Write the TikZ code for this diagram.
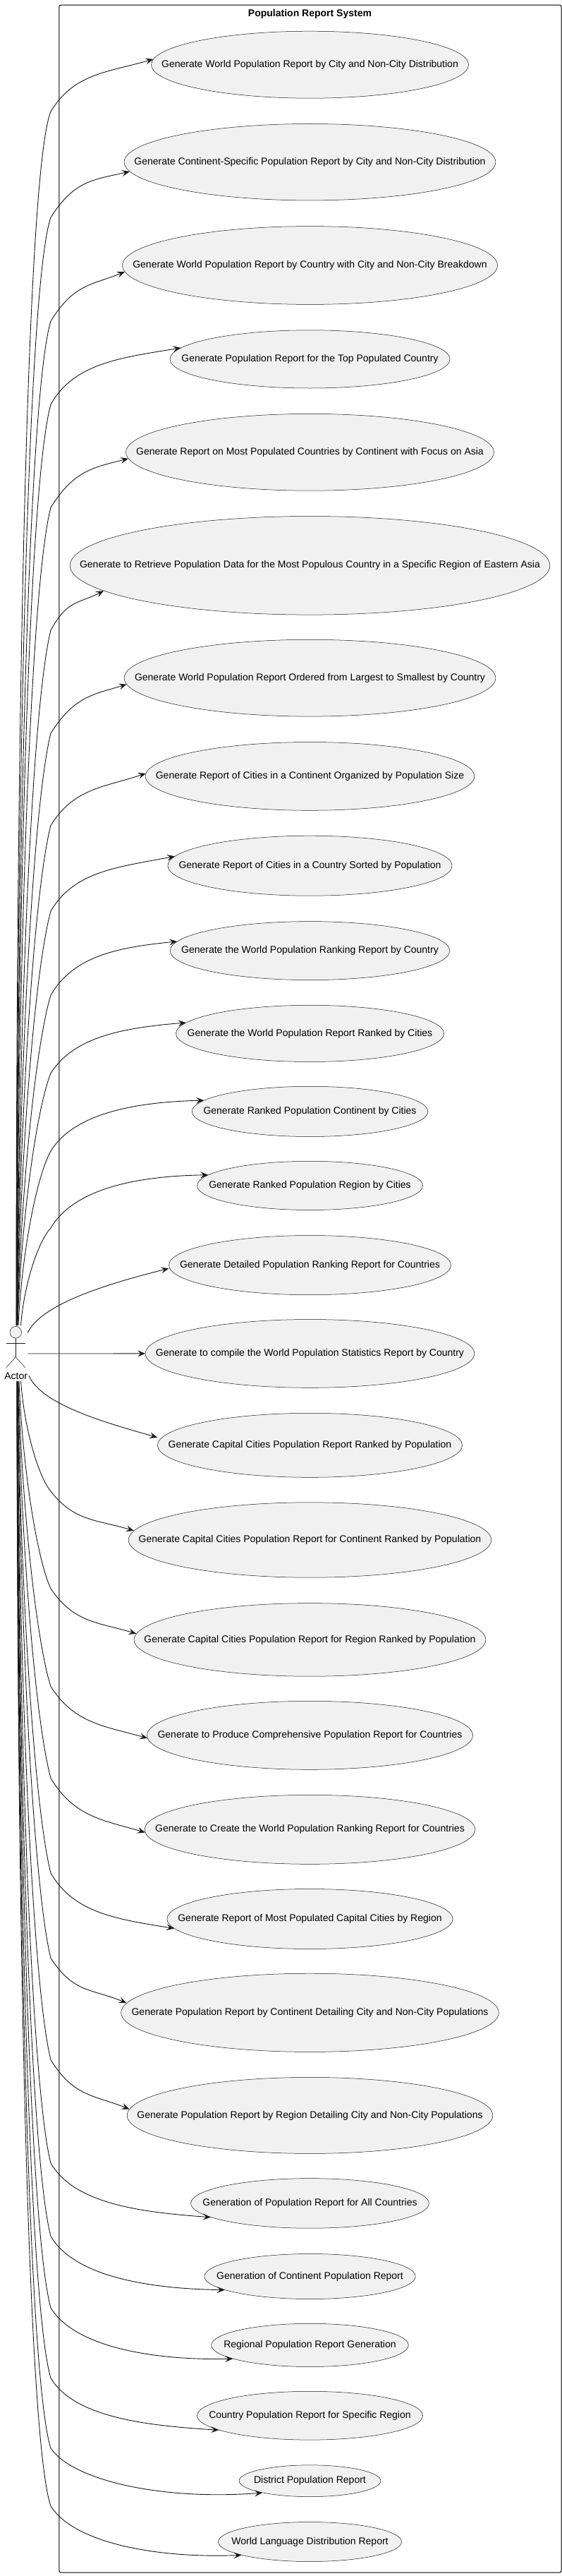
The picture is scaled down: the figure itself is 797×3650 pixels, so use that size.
\documentclass[tikz,border=0pt]{standalone}
\usepackage{fontspec}
\setmainfont{Liberation Sans}
\usetikzlibrary{arrows.meta,shapes.geometric}
\definecolor{ink}{HTML}{181818}
\definecolor{ucfill}{HTML}{F1F1F1}
\tikzset{
  usecase/.style={ellipse,draw=ink,line width=.5pt,fill=ucfill,inner sep=0pt,font=\fontsize{14}{16}\selectfont},
  link/.style={draw=ink,line width=.9pt,-{Stealth[length=11pt,width=9pt,inset=4.5pt]}},
  stick/.style={draw=ink,line width=.5pt},
  frameline/.style={draw=black,line width=1pt,rounded corners=2.5pt},
  plainlabel/.style={inner sep=0pt,text=black,font=\fontsize{14}{16}\selectfont}
}
\begin{document}
\begin{tikzpicture}[x=1pt,y=-1pt]
\useasboundingbox (0,0) rectangle (797,3650);
\fill[white] (0,0) rectangle (797,3650);
\draw[frameline] (83.8,7.1) rectangle (796,3645);
\node[plainlabel,font=\fontsize{14}{16}\selectfont\bfseries] (title) at (439.5,19.4) {Population Report System};
\foreach \i/\cy/\rx/\ry/\txt in {
1/91.7/225/47.5/Generate World Population Report by City and Non-City Distribution,
2/229.7/263.4/54.2/Generate Continent-Specific Population Report by City and Non-City Distribution,
3/376/266/55.4/Generate World Population Report by Country with City and Non-City Breakdown,
4/508.9/198.5/41.1/Generate Population Report for the Top Populated Country,
5/640.8/260.9/54.4/Generate Report on Most Populated Countries by Continent with Focus on Asia,
6/801.3/340.3/69.8/Generate to Retrieve Population Data for the Most Populous Country in a Specific Region of Eastern Asia,
7/960.7/263.4/54.4/Generate World Population Report Ordered from Largest to Smallest by Country,
8/1099.9/233.3/48.4/Generate Report of Cities in a Continent Organized by Population Size,
9/1226.7/201.6/42.5/Generate Report of Cities in a Country Sorted by Population,
10/1347.1/198.3/41.5/Generate the World Population Ranking Report by Country,
11/1464.4/190/40.1/Generate the World Population Report Ranked by Cities,
12/1574.9/167.3/35.6/Generate Ranked Population Continent by Cities,
13/1679.9/160/34.6/Generate Ranked Population Region by Cities,
14/1792.6/200/42.1/Generate Detailed Population Ranking Report for Countries,
15/1917.9/233.3/48.4/Generate to compile the World Population Statistics Report by Country,
16/2047.8/216.1/45.5/Generate Capital Cities Population Report Ranked by Population,
17/2182/257.3/53.2/Generate Capital Cities Population Report for Continent Ranked by Population,
18/2323.4/249.4/51.8/Generate Capital Cities Population Report for Region Ranked by Population,
19/2458.8/231/48.5/Generate to Produce Comprehensive Population Report for Countries,
20/2592.3/234.3/49/Generate to Create the World Population Ranking Report for Countries,
21/2719/202.6/42.5/Generate Report of Most Populated Capital Cities by Region,
22/2851.8/267.8/55.6/Generate Population Report by Continent Detailing City and Non-City Populations,
23/2997.4/259.3/54/Generate Population Report by Region Detailing City and Non-City Populations,
24/3121.9/168.9/35.3/Generation of Population Report for All Countries,
25/3225.5/149.7/32/Generation of Continent Population Report,
26/3322.9/139.8/30.6/Regional Population Report Generation,
27/3422.7/160/34.4/Country Population Report for Specific Region,
28/3515.2/100.4/22.4/District Population Report,
29/3601.5/130/28/World Language Distribution Report}{
  \node[usecase,minimum width=2*\rx pt,minimum height=2*\ry pt] (u\i) at (439.5,\cy) {\makebox[0pt]{\txt}};
  \expandafter\xdef\csname cy\i\endcsname{\cy}
}
% actor
\node[circle,draw=ink,line width=.5pt,fill=ucfill,minimum size=16.6pt,inner sep=0pt] (head) at (22.3,1887.7) {};
\coordinate (neck) at (22.3,1896);
\coordinate (hip) at (22.3,1922.7);
\coordinate (handl) at (9,1903.3);
\coordinate (handr) at (35.7,1903.3);
\coordinate (footl) at (9,1937.7);
\coordinate (footr) at (35.7,1937.7);
\draw[stick] (head.south) -- (hip);
\draw[stick] (handl) -- (handr);
\draw[stick] (footl) -- (hip) -- (footr);
\node[plainlabel] (actor) at (22.7,1949.7) {Actor};
% long edges: i / start x / bend y / tip x / tip y / arrival slope
\foreach \i/\sx/\by/\ex/\ey/\sl in {
1/23/158/217/85.8/-.26,
2/23.2/308/180/238.8/-.33,
3/23.4/455/178/384/-.42,
4/23.6/573/254/494.6/-.15,
5/23.8/719/182.4/648.5/-.28,
6/24/893/143/835.4/-.63,
7/24/1039/180.4/969.5/-.3,
8/24.2/1169.5/207/1099/-.28,
9/24.4/1291/248/1215/-.17,
10/24.6/1410/251.4/1334/-.1,
11/25/1520.6/262/1451/-.06,
12/26/1631/290.8/1559.4/-.02,
13/29.5/1740/294.3/1665.3/-.01,
17/29.6/2113/190/2170/.32,
18/27/2251/192.6/2315.7/.32,
19/26/2389.6/208.5/2459/.22,
20/25.5/2519.5/206/2592.7/.23,
21/25/2654/246.8/2730.6/.14,
22/25/2774.5/176.8/2841.7/.52,
23/24.5/2918.7/182.4/2989/.42,
24/24.5/3065/294.8/3140.3/.06,
25/24.2/3168.6/320.4/3243.6/.005,
26/24.2/3270/328.6/3342.4/-.02,
27/24/3369.6/306.6/3441.9/.05,
28/24/3469/369/3532.2/-.08,
29/24/3551/342.4/3620.2/-.04}{
  \pgfmathsetmacro\sy{\by<1900?1878:1957}
  \pgfmathsetmacro\L{abs(\by-\sy)}
  \pgfmathsetmacro\f{min(1,max(0,(\L-468)/1244))}
  \pgfmathsetmacro\ax{\sx+(72-\sx)*.1*(1-\f)}
  \pgfmathsetmacro\ay{\sy+(\by-\sy)*(.4+.1*\f)}
  \pgfmathsetmacro\bx{\sx+(72-\sx)*(.55-.25*\f)}
  \pgfmathsetmacro\bby{\sy+(\by-\sy)*(.85+.1*\f)}
  \pgfmathsetmacro\dh{\ex-72}
  \pgfmathsetmacro\k{min(1,\dh/100)}
  \pgfmathsetmacro\cx{72+33*\k}
  \pgfmathsetmacro\ccy{\by+.75*(\ey-\by)}
  \pgfmathsetmacro\ddx{\ex-.45*\dh}
  \pgfmathsetmacro\ddy{\ey-.45*\dh*\sl}
  \pgfmathsetmacro\ang{atan2(\csname cy\i\endcsname-\ey,\ex-439.5)}
  \coordinate (s\i) at (\sx,\sy);
  \coordinate (b\i) at (72,\by);
  \draw[link] (s\i) .. controls (\ax,\ay) and (\bx,\bby) .. (b\i)
     .. controls (\cx,\ccy) and (\ddx,\ddy) .. (u\i.\ang);
}
% edges that leave the actor sideways
\coordinate (s14) at (39.3,1888.3);
\draw[link] (s14) .. controls (58,1850) and (140,1822) .. (u14.west |- 0,1797.3);
\coordinate (s15) at (39.3,1918);
\draw[link] (s15) -- (u15.west);
\coordinate (s16) at (41,1949);
\draw[link] (s16) .. controls (58,1990) and (150,2016) .. (u16.west |- 0,2036.7);
\end{tikzpicture}
\end{document}
